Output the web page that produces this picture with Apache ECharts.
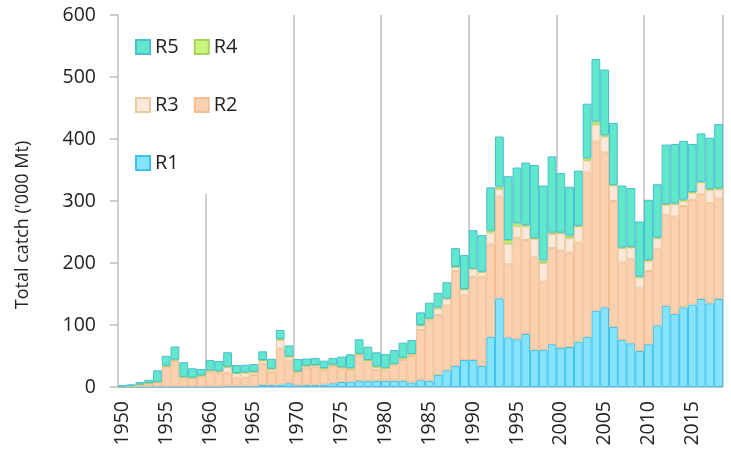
<!DOCTYPE html>
<html>
<head>
<meta charset="utf-8">
<script src="https://cdn.jsdelivr.net/npm/echarts@6/dist/echarts.min.js"></script>
<style>
  html, body { margin: 0; padding: 0; background: #fff; }
  #chart { width: 731px; height: 454px; }
</style>
</head>
<body>
<div id="chart"></div>
<script>
// catch by region, '000 Mt, 1950-2018
const years = [];
for (let y = 1950; y <= 2018; y++) years.push(String(y));

const r1 = [0.2, 0.2, 0.3, 0.3, 0.5, 0.5, 0.5, 0.5, 0.5, 0.5,
    0.5, 0.5, 1, 1, 1, 1, 3.5, 3, 4, 6,
    2.7, 3, 3, 4, 6, 8, 8.5, 9.5, 9.5, 9.5,
    10, 10, 10, 7, 11, 10, 19.5, 27, 34, 43.5,
    43.5, 34, 81, 143, 80, 77, 85.5, 60, 60, 69,
    63, 64.5, 73, 81, 123, 128.5, 97, 76, 70.5, 58,
    69, 99.5, 131, 118, 128.5, 133, 142, 135, 142];
const r2 = [1, 1.5, 3, 5.5, 7, 32, 42, 15, 13.5, 17,
    24, 22.5, 22, 14, 14, 18.5, 33.5, 21.5, 58, 36.5,
    19.5, 28, 30, 23.5, 28, 21.5, 19, 42, 31.5, 18,
    16.5, 24.5, 33.5, 43, 81, 97, 96.5, 104.5, 153, 104.5,
    134.5, 144, 149, 164, 118, 164, 151.5, 149, 110, 155,
    157, 152.5, 160, 265, 273, 250, 203, 125, 135.5, 101,
    118, 122.5, 146, 157, 163.5, 169, 169, 162, 162];
const r3 = [0.2, 0.3, 0.5, 0.5, 0.5, 1, 1, 0.5, 0.5, 0.5,
    1.5, 1.5, 9, 7, 8, 4.5, 5.5, 4.5, 13.5, 6,
    2.5, 3, 2, 2.5, 1.5, 2, 2.5, 1.5, 2, 4.5,
    3.5, 2.5, 3.3, 3, 7, 3, 10.8, 10.5, 6.5, 9.5,
    12.5, 7.5, 19, 12, 33, 18, 22, 30, 30, 23,
    28, 23, 26, 19, 27, 25.5, 25, 23, 19, 18,
    16, 18, 17, 20, 8, 11, 19, 21, 15];
const r4 = [0.1, 0.2, 0.2, 0.2, 0.3, 0.8, 0.8, 0.5, 0.7, 0.5,
    1, 1, 1, 0.5, 0.5, 0.5, 1, 0.5, 2, 1,
    0.5, 0.5, 0.5, 0.5, 0.5, 0.5, 0.5, 0.5, 0.5, 1,
    1, 0.5, 0.5, 0.5, 1, 0.5, 1.7, 1, 0.5, 0.5,
    0.5, 0.5, 3, 4, 6, 5, 2, 1, 4, 2,
    1, 4, 1, 4, 5, 2, 1, 1, 1, 1,
    2, 1, 1, 1, 2, 1.5, 1, 1, 1.5];
const r5 = [1, 2, 4, 5, 18.5, 16, 21, 23.5, 15, 10.5,
    16.5, 16.5, 23, 13, 12.5, 12.5, 14, 16, 14.5, 17.5,
    19.8, 11.5, 11.5, 12, 11, 17, 22.2, 23.5, 21.5, 23,
    22, 22.2, 24.2, 22.3, 20.4, 25.5, 23.5, 26, 30, 55,
    62, 59, 70, 81, 103, 90, 101, 118, 121, 123,
    96, 79, 89, 88, 101, 106, 100, 100, 95, 89,
    97, 86, 96, 96, 95, 77.5, 78, 83, 103.5];

const decadeLines = ['1960', '1970', '1980', '1990', '2000', '2010'];

const font = 'Open Sans';
const textColor = '#222';
const axisGray = '#BFBFBF';

const regions = [
    { name: 'R1', data: r1, fill: '#85E4FC', border: '#3FC1EC' },
    { name: 'R2', data: r2, fill: '#FBD1B0', border: '#F2BE95' },
    { name: 'R3', data: r3, fill: '#FCE8DA', border: '#E8CB99' },
    { name: 'R4', data: r4, fill: '#C8F57C', border: '#A9D35C' },
    { name: 'R5', data: r5, fill: '#60E8CA', border: '#4DBCD6' }
];

const chart = echarts.init(document.getElementById('chart'));

const legendBase = {
    orient: 'horizontal',
    itemWidth: 14,
    itemHeight: 14,
    itemGap: 15,
    icon: 'rect',
    padding: 0,
    textStyle: { fontFamily: font, fontSize: 20, color: textColor }
};

chart.setOption({
    animation: false,
    textStyle: { fontFamily: font },
    legend: [
        Object.assign({}, legendBase, {
            data: ['R1'], left: 120, top: 15, z: 3,
            backgroundColor: '#fff',
            padding: [138, 70, 21, 15]
        }),
        Object.assign({}, legendBase, { data: ['R5', 'R4'], left: 135, top: 37, z: 4 }),
        Object.assign({}, legendBase, { data: ['R3', 'R2'], left: 135, top: 95, z: 4 })
    ],
    grid: {
        left: 118,
        right: 8,
        top: 15,
        bottom: 67,
        containLabel: false
    },
    xAxis: {
        type: 'category',
        data: years,
        boundaryGap: true,
        axisLine: { lineStyle: { color: axisGray, width: 1.5 } },
        axisTick: {
            interval: 4,
            length: 8,
            lineStyle: { color: axisGray, width: 1.5 }
        },
        axisLabel: {
            interval: 4,
            rotate: 90,
            margin: 14,
            fontSize: 19.5,
            color: textColor,
            fontFamily: font
        },
        splitLine: {
            show: true,
            interval: function (index, value) {
                return decadeLines.indexOf(value) >= 0;
            },
            lineStyle: { color: axisGray, width: 1.5 }
        }
    },
    yAxis: {
        type: 'value',
        min: 0,
        max: 600,
        interval: 100,
        name: "Total catch ('000 Mt)",
        nameLocation: 'middle',
        nameGap: 86,
        nameTextStyle: { fontSize: 18, color: textColor, fontFamily: font, padding: [0, 48, 0, 0] },
        axisLine: { show: true, lineStyle: { color: axisGray, width: 1.5 } },
        axisTick: { show: true, length: 8, lineStyle: { color: axisGray, width: 1.5 } },
        axisLabel: { margin: 22, fontSize: 19.5, color: textColor, fontFamily: font },
        splitLine: { show: false }
    },
    series: regions.map(function (r) {
        return {
            name: r.name,
            type: 'bar',
            stack: 'total',
            barCategoryGap: '0%',
            data: r.data,
            itemStyle: { color: r.fill, borderColor: r.border, borderWidth: 1 }
        };
    })
});
</script>
</body>
</html>
